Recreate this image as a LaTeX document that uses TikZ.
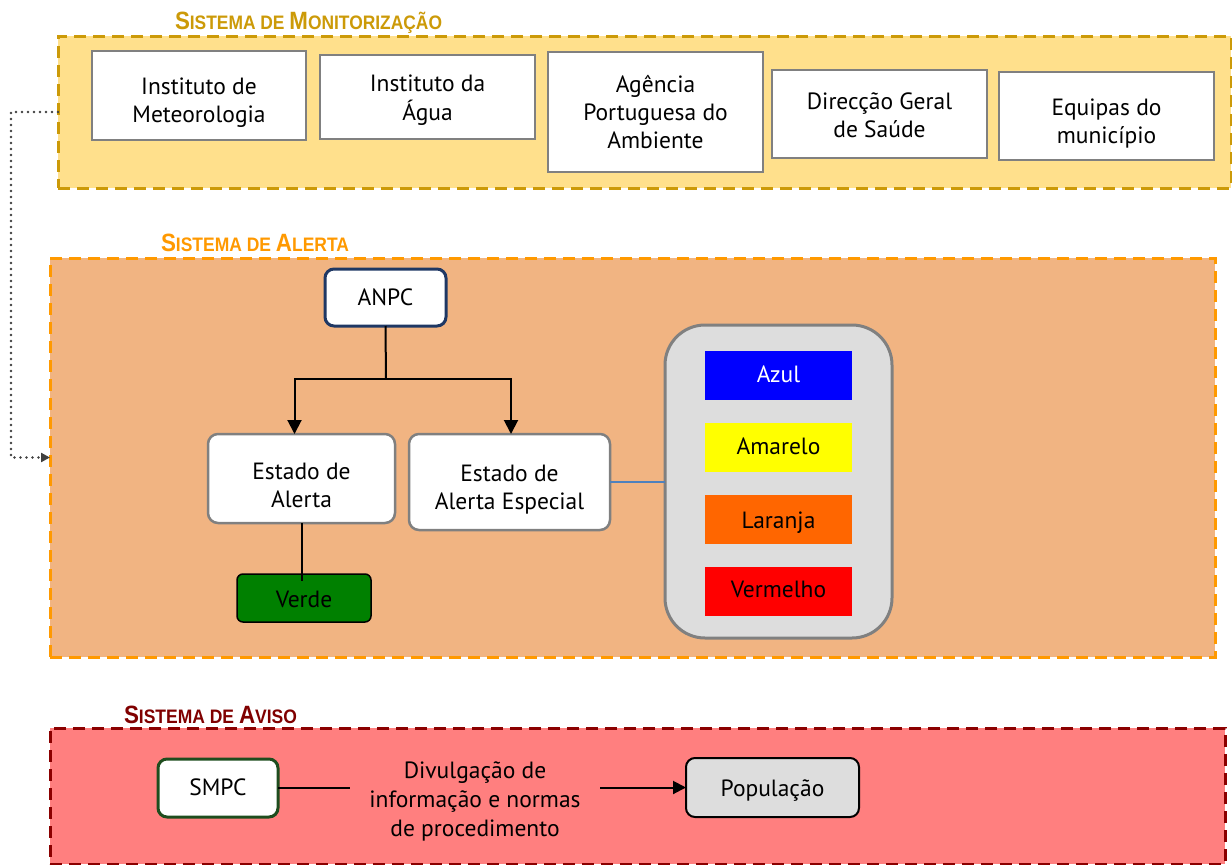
\documentclass[tikz,border=0pt]{standalone}
\usepackage{fontspec}
\usepackage{graphicx}
\setmainfont{PT Sans}
\newfontfamily\titlefont{Liberation Sans}
\usetikzlibrary{arrows.meta}
\definecolor{monfill}{HTML}{FFE08C}
\definecolor{monborder}{HTML}{CC9A08}
\definecolor{alertfill}{HTML}{F1B482}
\definecolor{alertborder}{HTML}{FF9900}
\definecolor{warnfill}{HTML}{FF7F7F}
\definecolor{warnborder}{HTML}{8B0000}
\definecolor{boxgray}{HTML}{808080}
\definecolor{navy}{HTML}{1F3864}
\definecolor{lightgray}{HTML}{DDDDDD}
\definecolor{dkgreen}{HTML}{1E4D1E}
\definecolor{verdefill}{HTML}{008000}
\definecolor{azulfill}{HTML}{0000FF}
\definecolor{amarfill}{HTML}{FFFF00}
\definecolor{larfill}{HTML}{FF6600}
\definecolor{vermfill}{HTML}{FF0000}
\definecolor{bluelink}{HTML}{4F81BD}
\definecolor{dotgray}{HTML}{404040}
\definecolor{avisotitle}{HTML}{800000}
\newcommand\ttlBig[1]{{\fontsize{25}{25}\selectfont #1}}
\newcommand\ttlSm[1]{{\fontsize{19.5}{20}\selectfont #1}}
\newcommand\ttlFit[2]{\resizebox{#1}{\height}{\titlefont\bfseries #2}}
\newcommand\tdown[2][5pt]{\raisebox{-#1}[\height][\depth]{\begin{tabular}{@{}c@{}}#2\end{tabular}}}
\begin{document}
\begin{tikzpicture}[x=1pt,y=-1pt,
  every node/.style={font=\fontsize{23.5}{28}\selectfont, align=center, inner sep=0pt, outer sep=0pt},
  zone/.style={dash pattern=on 12pt off 7pt, line width=3pt},
  ttl/.style={anchor=base west},
  monbox/.style={draw=boxgray, line width=2.5pt, fill=white},
  albox/.style={draw=boxgray, line width=2.5pt, fill=white, rounded corners=10pt},
  colbox/.style={minimum width=147pt, minimum height=49pt},
  conn/.style={line width=2pt, black},
  tip/.style={-{Triangle[width=14pt,length=14pt]}},
  dotconn/.style={dotgray, line width=2.8pt, dash pattern=on 0pt off 6pt, line cap=round, -{Triangle[width=9pt,length=9pt]}}
]
\useasboundingbox (0,0) rectangle (1232,865);
\fill[white] (0,0) rectangle (1232,865);

% Monitoring
\node[zone, draw=monborder, fill=monfill, minimum width=1173pt, minimum height=152pt] (mon) at (644.5,112) {};
\node[ttl, text=monborder] (montitle) at (175,29) {\ttlFit{267pt}{\ttlBig{S}\ttlSm{ISTEMA DE }\ttlBig{M}\ttlSm{ONITORIZAÇÃO}}};
\node[monbox, minimum width=214pt, minimum height=89pt] (im) at (199,95.5) {\tdown[7pt]{Instituto de\\Meteorologia}};
\node[monbox, minimum width=215pt, minimum height=84pt] (ia) at (427.5,97) {\tdown[3pt]{Instituto da\\Água}};
\node[monbox, minimum width=215pt, minimum height=120pt] (apa) at (655.5,112) {\tdown[3pt]{Agência\\Portuguesa do\\Ambiente}};
\node[monbox, minimum width=215pt, minimum height=88pt] (dgs) at (879.5,114) {\tdown[4pt]{Direcção Geral\\de Saúde}};
\node[monbox, minimum width=215pt, minimum height=88pt] (eqm) at (1106.5,116) {\tdown[8pt]{Equipas do\\município}};

% Alert
\node[zone, draw=alertborder, fill=alertfill, minimum width=1165pt, minimum height=399pt] (alert) at (632.5,457.5) {};
\node[ttl, text=alertborder] (alerttitle) at (161,251) {\ttlFit{188pt}{\ttlBig{S}\ttlSm{ISTEMA DE }\ttlBig{A}\ttlSm{LERTA}}};
\node[draw=navy, line width=3pt, fill=white, rounded corners=9pt, minimum width=121pt, minimum height=57pt] (anpc) at (385.5,297.5) {ANPC};
\node[albox, minimum width=187pt, minimum height=89pt] (ea) at (301.5,478.5) {\tdown[9pt]{Estado de\\Alerta}};
\node[albox, minimum width=201pt, minimum height=96pt] (eae) at (509.5,482) {\tdown[8pt]{Estado de\\Alerta Especial}};
\node[draw=black, line width=1.5pt, fill=verdefill, rounded corners=6pt, minimum width=134pt, minimum height=48pt] (verde) at (304,598) {\tdown[4pt]{Verde}};
\node[draw=boxgray, line width=3pt, fill=lightgray, rounded corners=40pt, minimum width=227pt, minimum height=313pt] (gray) at (778.5,481.5) {};
\node[colbox, fill=azulfill, text=white] (azul) at (778.5,375.5) {\tdown[1pt]{Azul}};
\node[colbox, fill=amarfill] (amar) at (778.5,447) {\tdown[2pt]{Amarelo}};
\node[colbox, fill=larfill] (lar) at (778.5,519.5) {\tdown[3pt]{Laranja}};
\node[colbox, fill=vermfill] (verm) at (778.5,591) {\tdown[1pt]{Vermelho}};

\coordinate (fork) at (386,379);
\draw[conn] (anpc.south) -- (fork);
\draw[conn, tip] (fork) -| ([xshift=-7pt]ea.north);
\draw[conn, tip] (fork) -| ([xshift=1.5pt]eae.north);
\draw[conn] (ea.south) -- ([yshift=-7pt]ea.south |- verde.north);
\draw[bluelink, line width=1.3pt] (eae.east) -- (eae.east -| gray.west);

% Dotted connector
\draw[dotconn] (mon.west) -- ++(-47,0) |- (alert.west);

% Warning
\node[zone, draw=warnborder, fill=warnfill, minimum width=1175pt, minimum height=136pt] (warn) at (637.5,796) {};
\node[ttl, text=avisotitle] (warntitle) at (124,723) {\ttlFit{173pt}{\ttlBig{S}\ttlSm{ISTEMA DE }\ttlBig{A}\ttlSm{VISO}}};
\node[draw=dkgreen, line width=3pt, fill=white, rounded corners=9pt, minimum width=120pt, minimum height=58pt] (smpc) at (218,788) {\tdown[2pt]{SMPC}};
\node[minimum width=250pt, font=\fontsize{23.5}{29}\selectfont] (div) at (475,801) {Divulgação de\\informação e normas\\de procedimento};
\node[draw=black, line width=2pt, fill=lightgray, rounded corners=9pt, minimum width=173pt, minimum height=59pt] (pop) at (772.5,787.5) {\tdown[3pt]{População}};
\draw[line width=1.5pt] (smpc.east) -- (smpc.east -| div.west);
\draw[line width=2pt, -{Triangle[width=13pt,length=13pt]}] (div.east |- pop.west) -- (pop.west);
\end{tikzpicture}
\end{document}
